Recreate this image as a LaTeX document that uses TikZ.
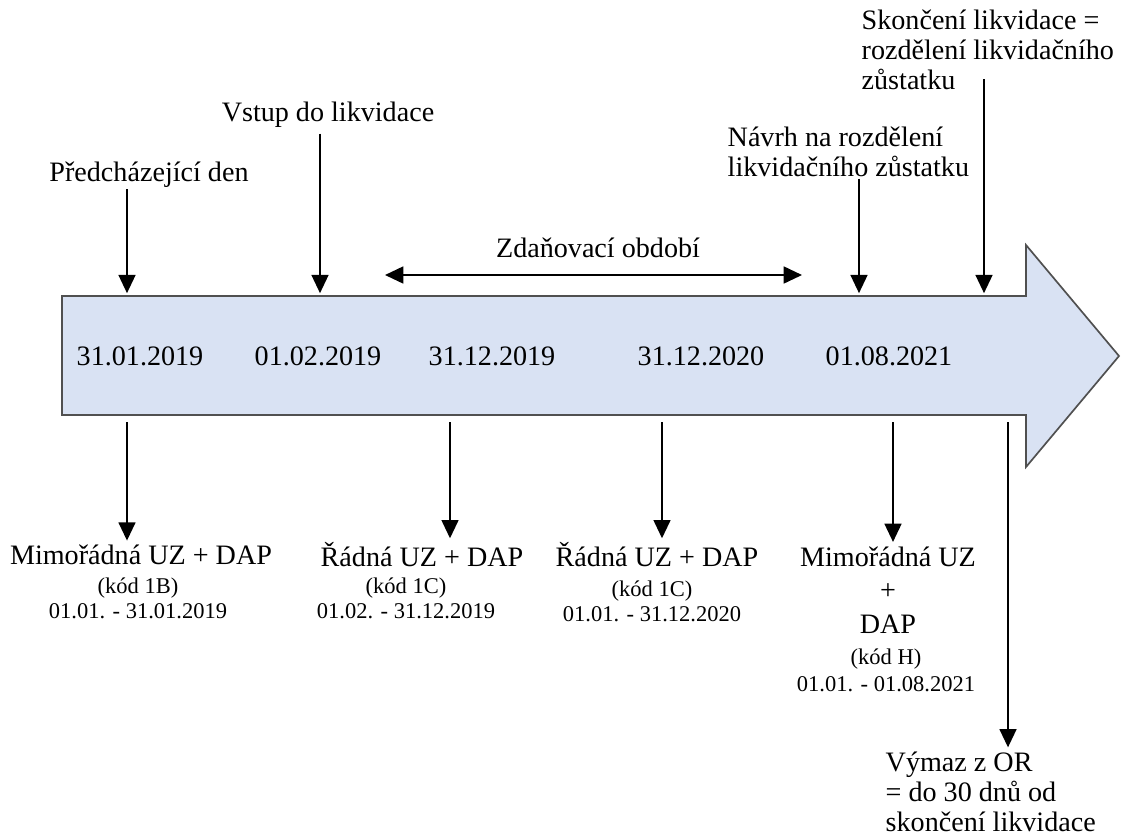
\documentclass[tikz,border=0pt]{standalone}
\usepackage{fontspec}
\setmainfont{Liberation Serif}
\usetikzlibrary{arrows.meta}
\definecolor{osafill}{HTML}{D9E2F3}
\definecolor{osaline}{HTML}{505050}

\begin{document}
\begin{tikzpicture}[
        x=0.025cm,y=-0.025cm,>={Triangle[width=12pt,length=13pt]},
        every node/.style={inner sep=1pt,font=\fontsize{20}{21.5}\selectfont},
        small/.style={font=\fontsize{16}{18}\selectfont},
        pil/.style={->,line width=1.4pt,shorten >=2pt},
        ]
        \useasboundingbox (0,0) rectangle (1123,837);
        % the time axis
        \draw[fill=osafill,draw=osaline,line width=1.2pt] (62,296) -- (1026,296) -- (1026,245) -- (1119,356)
            -- (1026,467) -- (1026,415) -- (62,415) -- cycle;
        \coordinate (t_1) at (127,296);
        \coordinate (t_2) at (320,296);
        \coordinate (t_3) at (859,296);
        \coordinate (t_4) at (984,296);
        \coordinate (b_1) at (127,415);
        \coordinate (b_2) at (450,415);
        \coordinate (b_3) at (662,415);
        \coordinate (b_4) at (893,415);
        \coordinate (b_5) at (1008,415);
        \coordinate (z_l) at (385,275);
        \coordinate (z_r) at (802,275);

        % dates
        \node (d_1) at (140,356) {31.01.2019};
        \node (d_2) at (318,356) {01.02.2019};
        \node (d_3) at (492,356) {31.12.2019};
        \node (d_4) at (701,356) {31.12.2020};
        \node (d_5) at (889,356) {01.08.2021};

        % above the axis
        \node (n_1) at (149,175) {Předcházející den};
        \node (n_2) at (328,115) {Vstup do likvidace};
        \node (n_3) at (598,248) {Zdaňovací období};
        \node[align=left,anchor=west] (n_4) at (726,152) {Návrh na rozdělení\\likvidačního zůstatku};
        \node[align=left,anchor=west] (n_5) at (860,50) {Skončení likvidace =\\rozdělení likvidačního\\zůstatku};
        \coordinate (s_2) at ([yshift=-3pt]n_2.south);
        \coordinate (s_5) at ([yshift=9pt]n_5.south);

        \draw[pil] (n_1.south -| t_1) -- (t_1);
        \draw[pil] (s_2 -| t_2) -- (t_2);
        \draw[pil,<->,shorten <=0pt,shorten >=0pt] (z_l) -- (z_r);
        \draw[pil] (n_4.south -| t_3) -- (t_3);
        \draw[pil] (s_5 -| t_4) -- (t_4);

        % below the axis
        \node (u_1) at (141,555) {Mimořádná UZ + DAP};
        \node[small,align=center] (k_1) at (138,598) {(kód 1B)\\01.01. - 31.01.2019};
        \node (u_2) at (422,555) {Řádná UZ + DAP};
        \node[small,align=center] (k_2) at (406,598) {(kód 1C)\\01.02. - 31.12.2019};
        \node (u_3) at (657,555) {Řádná UZ + DAP};
        \node[small,align=center] (k_3) at (652,601) {(kód 1C)\\01.01. - 31.12.2020};
        \node[align=center,font=\fontsize{20}{24}\selectfont] (u_4) at (888,590) {Mimořádná UZ\\+\\DAP};
        \node[small,align=center,font=\fontsize{16}{19}\selectfont] (k_4) at (886,670) {(kód H)\\01.01. - 01.08.2021};
        \node[align=left,anchor=west] (v_5) at (884,792) {Výmaz z OR\\= do 30 dnů od\\skončení likvidace};

        \draw[pil,shorten <=5pt] (b_1) -- (u_1.north -| b_1);
        \draw[pil,shorten <=5pt] (b_2) -- (u_2.north -| b_2);
        \draw[pil,shorten <=5pt] (b_3) -- (u_3.north -| b_3);
        \draw[pil,shorten <=5pt] (b_4) -- (u_4.north -| b_4);
        \draw[pil,shorten <=5pt] (b_5) -- (v_5.north -| b_5);
      \end{tikzpicture}
\end{document}
